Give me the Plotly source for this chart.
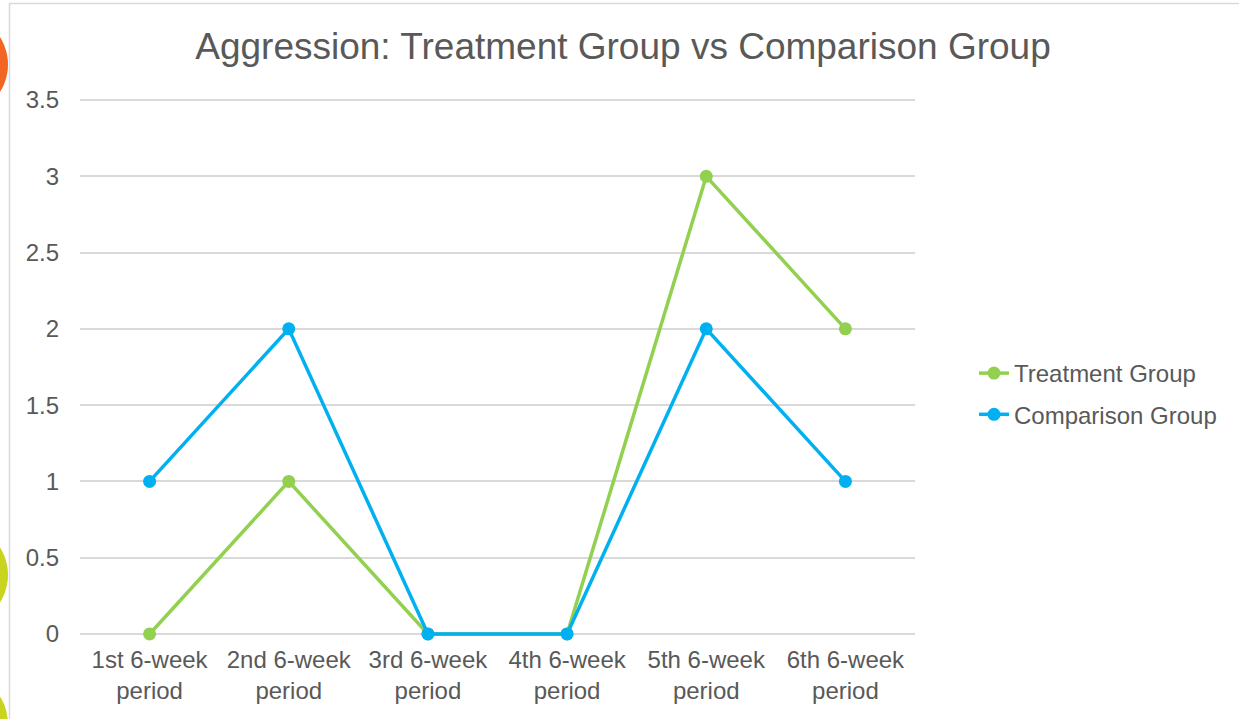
import plotly.graph_objects as go

categories = ["1st 6-week<br>period", "2nd 6-week<br>period", "3rd 6-week<br>period",
              "4th 6-week<br>period", "5th 6-week<br>period", "6th 6-week<br>period"]
treatment = [0, 1, 0, 0, 3, 2]
comparison = [1, 2, 0, 0, 2, 1]
y_ticks = [0, 0.5, 1, 1.5, 2, 2.5, 3, 3.5]
y_tick_labels = ["0", "0.5", "1", "1.5", "2", "2.5", "3", "3.5"]

W, H = 1239, 719
EPS = 0.02
UNIT = (634 - 100) / 3.5
L, R = 80, 915
T, B = 100 - EPS * UNIT, 634 + EPS * UNIT

def px_x(p):
    return (p - L) / (R - L)

def px_y(p):
    return (B - p) / (B - T)

FONT = "Arial, Liberation Sans, sans-serif"
GREY = "#595959"

fig = go.Figure()
fig.add_trace(go.Scatter(
    x=list(range(len(categories))), y=treatment, name="Treatment Group",
    mode="lines+markers", line=dict(color="#92D050", width=3.5),
    marker=dict(size=13, color="#92D050"), cliponaxis=False, legendgroup="a"))
fig.add_trace(go.Scatter(
    x=list(range(len(categories))), y=comparison, name="Comparison Group",
    mode="lines+markers", line=dict(color="#00B0F0", width=3.5),
    marker=dict(size=13, color="#00B0F0"), cliponaxis=False, legendgroup="b"))

R_DEC = 51.25
shapes = [
    dict(type="rect", xref="paper", yref="paper",
         x0=px_x(9.5), x1=px_x(1500), y0=px_y(900), y1=px_y(3.5),
         line=dict(color="#D9D9D9", width=1.5), fillcolor="rgba(0,0,0,0)", layer="below"),
    dict(type="circle", xref="paper", yref="paper",
         x0=px_x(8 - 2 * R_DEC), x1=px_x(8), y0=px_y(64.5 + R_DEC), y1=px_y(64.5 - R_DEC),
         line=dict(width=0), fillcolor="#F26522", layer="below"),
    dict(type="circle", xref="paper", yref="paper",
         x0=px_x(8 - 2 * R_DEC), x1=px_x(8), y0=px_y(575 + R_DEC), y1=px_y(575 - R_DEC),
         line=dict(width=0), fillcolor="#C8D41E", layer="below"),
    dict(type="circle", xref="paper", yref="paper",
         x0=px_x(8 - 2 * R_DEC), x1=px_x(8), y0=px_y(724 + R_DEC), y1=px_y(724 - R_DEC),
         line=dict(width=0), fillcolor="#C8D41E", layer="below"),
]

fig.update_layout(
    width=W, height=H,
    margin=dict(l=L, r=W - R, t=T, b=H - B, pad=0),
    paper_bgcolor="white", plot_bgcolor="white",
    font=dict(family=FONT, size=24, color=GREY),
    title=dict(text="Aggression: Treatment Group vs Comparison Group",
               font=dict(family=FONT, size=37, color=GREY),
               x=623 / W, xanchor="center",
               y=1 - 46 / H, yanchor="middle"),
    xaxis=dict(range=[-0.5, 5.5], tickmode="array",
               tickvals=list(range(len(categories))), ticktext=categories,
               showgrid=False, zeroline=False, showline=False, ticks="",
               tickfont=dict(size=24, color=GREY), ticklabelstandoff=6, fixedrange=True),
    yaxis=dict(range=[-EPS, 3.5 + EPS], tickmode="array", tickvals=y_ticks, ticktext=y_tick_labels,
               showgrid=True, gridcolor="#D9D9D9", gridwidth=1.5, zeroline=False,
               showline=False, ticks="", tickfont=dict(size=24, color=GREY),
               ticklabelstandoff=20, fixedrange=True),
    legend=dict(x=px_x(974), xanchor="left", y=px_y(351), yanchor="top",
                font=dict(size=24, color=GREY), tracegroupgap=7,
                bgcolor="rgba(0,0,0,0)"),
    shapes=shapes,
    showlegend=True,
)

fig.write_html("out.html", config={"displayModeBar": False},
               post_script="document.body.style.margin='0';document.body.style.overflow='hidden';")
